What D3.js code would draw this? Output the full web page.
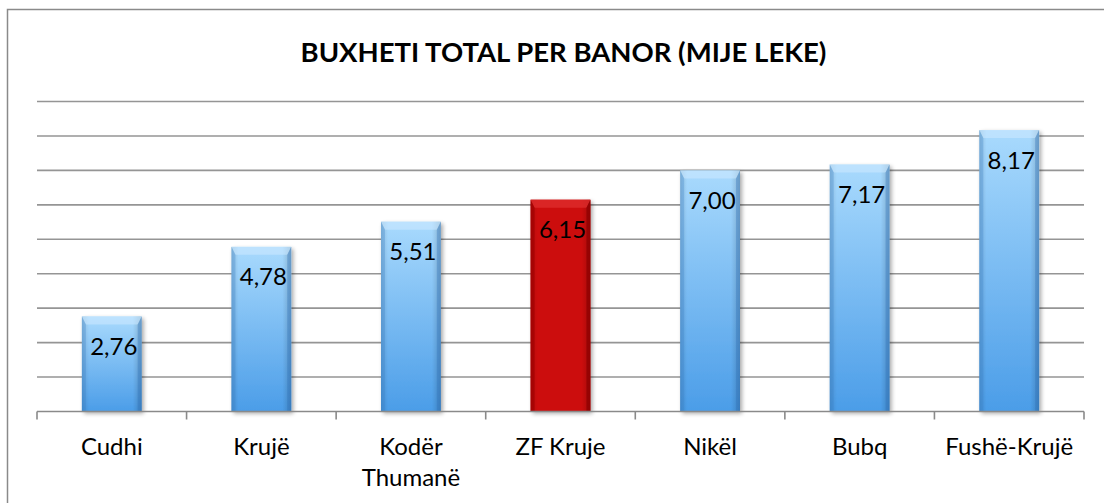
<!DOCTYPE html>
<html>
<head>
<meta charset="utf-8">
<script src="https://cdn.jsdelivr.net/npm/d3@7"></script>
<style>
  html, body { margin: 0; padding: 0; background: #fff; }
  svg { display: block; font-family: Lato, "Open Sans", sans-serif; }
</style>
</head>
<body>
<svg id="chart" width="1104" height="503"></svg>
<script>
// Budget per inhabitant (thousand lek) by unit
const categories = ["Cudhi", "Krujë", "Kodër Thumanë", "ZF Kruje", "Nikël", "Bubq", "Fushë-Krujë"];
const values = [2.76, 4.78, 5.51, 6.15, 7.00, 7.17, 8.17];
const valueLabels = ["2,76", "4,78", "5,51", "6,15", "7,00", "7,17", "8,17"];
const highlighted = ["ZF Kruje"];
const yTicks = [0, 1, 2, 3, 4, 5, 6, 7, 8, 9];
const title = "BUXHETI TOTAL PER BANOR (MIJE LEKE)";

const svg = d3.select("#chart");
const W = 1104, H = 503;
const plot = { left: 37, right: 1084, top: 101.5, bottom: 411.5 };

// outer chart frame (runs off the right and bottom edges)
svg.append("rect")
  .attr("x", 7.5).attr("y", 9.5)
  .attr("width", W + 20).attr("height", H + 20)
  .attr("fill", "#fff").attr("stroke", "#8a8a8a").attr("stroke-width", 1.5);

const x = d3.scaleBand().domain(categories)
  .range([plot.left, plot.right]).paddingInner(0.6).paddingOuter(0.3);
const y = d3.scaleLinear().domain([0, 9]).range([plot.bottom, plot.top]);

const defs = svg.append("defs");

// blue bar: vertical light-to-deep fill
const gBlue = defs.append("linearGradient").attr("id", "blueFill")
  .attr("x1", 0).attr("y1", 0).attr("x2", 0).attr("y2", 1);
gBlue.append("stop").attr("offset", "0%").attr("stop-color", "#a9dafd");
gBlue.append("stop").attr("offset", "100%").attr("stop-color", "#4b9de8");

// horizontal shading across bar width (darker edges)
const gSide = defs.append("linearGradient").attr("id", "sideShade")
  .attr("x1", 0).attr("y1", 0).attr("x2", 1).attr("y2", 0);
gSide.append("stop").attr("offset", "0%").attr("stop-color", "#000").attr("stop-opacity", 0.12);
gSide.append("stop").attr("offset", "12%").attr("stop-color", "#000").attr("stop-opacity", 0.0);
gSide.append("stop").attr("offset", "85%").attr("stop-color", "#000").attr("stop-opacity", 0.0);
gSide.append("stop").attr("offset", "100%").attr("stop-color", "#000").attr("stop-opacity", 0.18);

const shadow = defs.append("filter").attr("id", "barShadow")
  .attr("x", "-20%").attr("y", "-10%").attr("width", "150%").attr("height", "130%");
shadow.append("feGaussianBlur").attr("in", "SourceAlpha").attr("stdDeviation", 2);
shadow.append("feOffset").attr("dx", 2).attr("dy", 2).attr("result", "off");
shadow.append("feComponentTransfer").append("feFuncA").attr("type", "linear").attr("slope", 0.35);
const merge = shadow.append("feMerge");
merge.append("feMergeNode");
merge.append("feMergeNode").attr("in", "SourceGraphic");

// title
svg.append("text")
  .attr("x", (plot.left + plot.right) / 2 + 3).attr("y", 62)
  .attr("text-anchor", "middle")
  .attr("font-size", 27.5).attr("font-weight", "bold").attr("fill", "#000")
  .text(title);

// horizontal gridlines
svg.append("g").selectAll("line")
  .data(yTicks.filter(d => d > 0))
  .join("line")
  .attr("x1", plot.left).attr("x2", plot.right)
  .attr("y1", d => y(d)).attr("y2", d => y(d))
  .attr("stroke", "#959595").attr("stroke-width", 1.6);

// bars
const bars = svg.append("g").selectAll("g.bar")
  .data(categories.map((c, i) => ({ c, v: values[i], label: valueLabels[i] })))
  .join("g").attr("class", "bar");

bars.each(function(d) {
  const g = d3.select(this);
  const x0 = x(d.c), w = x.bandwidth(), y0 = y(d.v), h = y(0) - y(d.v);
  const red = highlighted.includes(d.c);
  const bev = 8, side = 4;
  g.append("rect")
    .attr("x", x0).attr("y", y0).attr("width", w).attr("height", h)
    .attr("fill", red ? "#cc0a0a" : "url(#blueFill)")
    .attr("filter", "url(#barShadow)");
  g.append("rect")
    .attr("x", x0).attr("y", y0).attr("width", w).attr("height", h)
    .attr("fill", "url(#sideShade)");
  // bevelled top face
  g.append("path")
    .attr("d", `M${x0},${y0} L${x0 + w},${y0} L${x0 + w - side},${y0 + bev} L${x0 + side},${y0 + bev} Z`)
    .attr("fill", red ? "#e03030" : "#cdeaff").attr("opacity", red ? 0.7 : 0.55);
  // side edges
  g.append("path")
    .attr("d", `M${x0},${y0} L${x0 + side},${y0 + bev} L${x0 + side},${y0 + h} L${x0},${y0 + h} Z`)
    .attr("fill", red ? "#9a0000" : "#3a80c8").attr("opacity", red ? 0.6 : 0.3);
  g.append("path")
    .attr("d", `M${x0 + w},${y0} L${x0 + w - side},${y0 + bev} L${x0 + w - side},${y0 + h} L${x0 + w},${y0 + h} Z`)
    .attr("fill", red ? "#8a0000" : "#2d70b8").attr("opacity", red ? 0.7 : 0.35);
  // value label
  g.append("text")
    .attr("x", x0 + w / 2 + 2).attr("y", y0 + 38.5)
    .attr("text-anchor", "middle").attr("font-size", 24).attr("fill", "#000")
    .text(d.label);
});

// category axis: baseline and boundary ticks
const step = x.step();
const boundaries = d3.range(categories.length + 1).map(i => plot.left + i * step);
const axis = svg.append("g");
axis.append("line")
  .attr("x1", plot.left).attr("x2", plot.right)
  .attr("y1", y(0)).attr("y2", y(0))
  .attr("stroke", "#8a8a8a").attr("stroke-width", 1.6);
axis.selectAll("line.tick").data(boundaries).join("line").attr("class", "tick")
  .attr("x1", d => d).attr("x2", d => d)
  .attr("y1", y(0)).attr("y2", y(0) + 8)
  .attr("stroke", "#8a8a8a").attr("stroke-width", 1.6);

// category labels, wrapped when wider than a band step
const labels = axis.selectAll("text.cat").data(categories).join("text").attr("class", "cat")
  .attr("x", d => x(d) + x.bandwidth() / 2)
  .attr("y", 455)
  .attr("text-anchor", "middle").attr("font-size", 24).attr("fill", "#000")
  .text(d => d);
labels.each(function(d) {
  const t = d3.select(this);
  if (this.getComputedTextLength() > step - 8 && d.includes(" ")) {
    const words = d.split(" ");
    t.text(null);
    words.forEach((wd, i) => {
      t.append("tspan").attr("x", x(d) + x.bandwidth() / 2)
        .attr("dy", i === 0 ? 0 : 31).text(wd);
    });
  }
});
</script>
</body>
</html>
